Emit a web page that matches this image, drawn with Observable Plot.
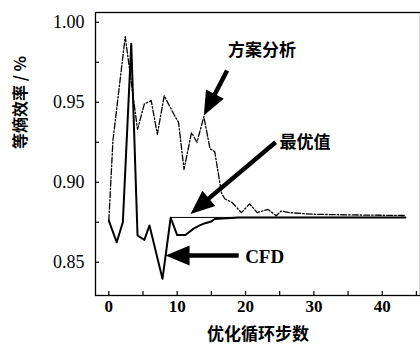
<!DOCTYPE html>
<html><head><meta charset="utf-8">
<script src="https://cdn.jsdelivr.net/npm/d3@7"></script>
<script src="https://cdn.jsdelivr.net/npm/@observablehq/plot@0.6"></script>
<style>body{margin:0;background:#fff}</style>
</head><body><div id="chart"></div>
<script>
// 方案分析 (dash-dot)
const planX = [0, 0.6, 2.4, 4.2, 5.2, 6.2, 7.1, 8.1, 9.7, 10.2, 11.0, 12.1, 12.9, 13.9, 14.8, 15.5, 16.5, 17.0, 18.0, 19.4, 20.6, 21.7, 23.3, 24.5, 25.2, 26.4, 29.8, 34.7, 43.4];
const planY = [0.876, 0.926, 0.991, 0.933, 0.949, 0.951, 0.930, 0.954, 0.941, 0.9375, 0.908, 0.931, 0.925, 0.941, 0.921, 0.919, 0.893, 0.8895, 0.8875, 0.881, 0.8865, 0.881, 0.883, 0.879, 0.882, 0.881, 0.880, 0.8796, 0.8792];
// CFD (solid)
const cfdX = [0, 1.15, 2.05, 3.28, 4.2, 5.2, 5.95, 7.85, 9.05, 10.0, 11.2, 12.4, 13.3, 14.1, 15.0, 15.5, 19.0, 43.4];
const cfdY = [0.876, 0.8625, 0.875, 0.9865, 0.8667, 0.864, 0.873, 0.8396, 0.8778, 0.867, 0.867, 0.871, 0.873, 0.8744, 0.8755, 0.877, 0.878, 0.878];
// 最优值
const optValue = 0.878;
const optRange = [9.05, 43.4];
// ticks
const xMajor = [0, 10, 20, 30, 40];
const xMinor = [0, 5, 10, 15, 20, 25, 30, 35, 40, 45];
const yMajor = [0.85, 0.90, 0.95, 1.00];
const yMinor = [0.85, 0.875, 0.90, 0.925, 0.95, 0.975, 1.00];
// annotations
const cjkLabels = [
  {text: "方案分析", x: 22.4, y: 0.9823},
  {text: "最优值", x: 28.7, y: 0.9248}
];
const serifLabels = [
  {text: "CFD", x: 22.8, y: 0.8536}
];
const arrows = [
  {x1: 17.3, y1: 0.9698, x2: 13.9, y2: 0.9417},
  {x1: 24.4, y1: 0.925, x2: 11.95, y2: 0.8802},
  {x1: 19.0, y1: 0.8542, x2: 8.3, y2: 0.8542}
];

const W = 420, H = 350, ML = 95, MR = 0, MT = 12, MB = 55;
const xDomain = [-1.95, 45.6], yDomain = [0.8292, 1.0061];
const kx = (W - ML - MR) / (xDomain[1] - xDomain[0]);
const ky = (H - MT - MB) / (yDomain[1] - yDomain[0]);
const headLen = 24, headR = 10;
const arrowData = arrows.map(a => {
  const dxp = (a.x2 - a.x1) * kx, dyp = (a.y2 - a.y1) * ky;
  const len = Math.hypot(dxp, dyp);
  const f = headLen * 0.6 / len;
  return {...a, angle: Math.atan2(dxp, dyp) * 180 / Math.PI,
    sx: a.x2 - (a.x2 - a.x1) * f, sy: a.y2 - (a.y2 - a.y1) * f};
});
const head = {draw(ctx, l, r) { ctx.moveTo(0, -l); ctx.lineTo(-r, 0); ctx.lineTo(r, 0); ctx.closePath(); }};

const plan = planX.map((x, i) => ({x, y: planY[i]}));
const cfd = cfdX.map((x, i) => ({x, y: cfdY[i]}));
const CJK = "Noto Sans CJK SC", SERIF = "Liberation Serif";

const chart = Plot.plot({
  width: W, height: H, marginLeft: ML, marginRight: MR, marginTop: MT, marginBottom: MB,
  x: {domain: xDomain, axis: null},
  y: {domain: yDomain, axis: null},
  style: {background: "#fff", color: "#000"},
  marks: [
    Plot.frame({stroke: "#000", strokeWidth: 1.3}),
    Plot.axisX(xMinor, {tickSize: 4, dy: -4, tickFormat: () => "", strokeWidth: 1.2}),
    Plot.axisY(yMinor, {tickSize: 4, dx: 4, tickFormat: () => "", strokeWidth: 1.2}),
    Plot.text(xMajor, {x: d => d, frameAnchor: "bottom", dy: 16, text: d => String(d), fontFamily: SERIF, fontSize: 17, fontWeight: "bold"}),
    Plot.text(yMajor, {y: d => d, frameAnchor: "left", dx: -11, textAnchor: "end", text: d3.format(".2f"), fontFamily: SERIF, fontSize: 18}),
    Plot.ruleY([optValue], {x1: optRange[0], x2: optRange[1], stroke: "#000", strokeWidth: 1}),
    Plot.line(plan, {x: "x", y: "y", stroke: "#000", strokeWidth: 1.3, strokeDasharray: "6,2,1.5,2"}),
    Plot.line(cfd, {x: "x", y: "y", stroke: "#000", strokeWidth: 2}),
    Plot.link(arrowData, {x1: "x1", y1: "y1", x2: "sx", y2: "sy", stroke: "#000", strokeWidth: 4.5}),
    Plot.vector(arrowData, {x: "x2", y: "y2", rotate: "angle", length: headLen, r: headR, anchor: "end", shape: head, fill: "#000", stroke: "none"}),
    Plot.text(cjkLabels, {x: "x", y: "y", text: "text", fontFamily: CJK, fontSize: 17, fontWeight: "bold"}),
    Plot.text(serifLabels, {x: "x", y: "y", text: "text", fontFamily: SERIF, fontSize: 19, fontWeight: "bold"}),
    Plot.text(["等熵效率 / %"], {frameAnchor: "left", dx: -75, dy: -5, rotate: -90, fontSize: 16, fontWeight: "bold", fontFamily: CJK}),
    Plot.text(["优化循环步数"], {frameAnchor: "bottom", dy: 44, fontSize: 17, fontWeight: "bold", fontFamily: CJK})
  ]
});
document.getElementById("chart").appendChild(chart);
</script>
</body></html>
